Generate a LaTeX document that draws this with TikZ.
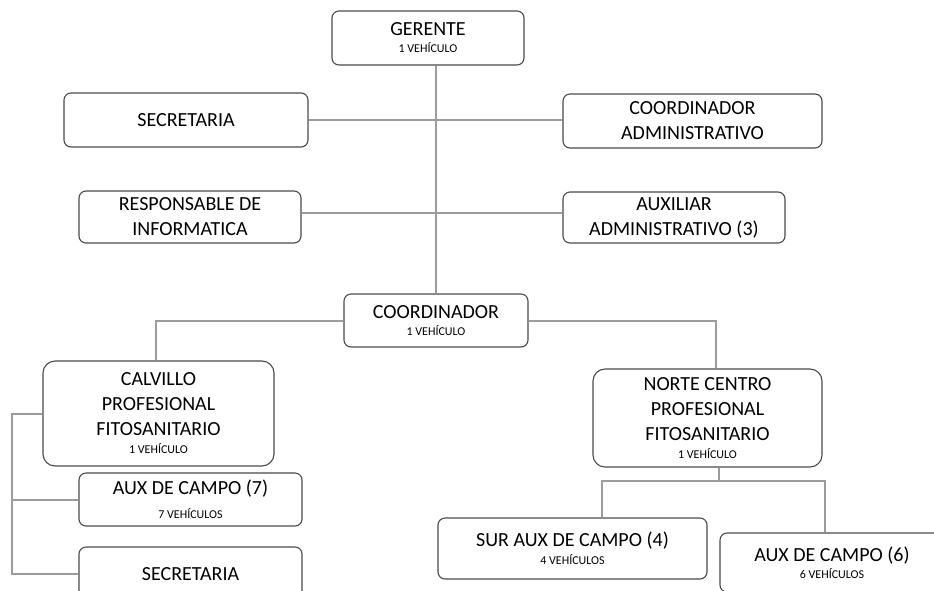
\documentclass[tikz,border=0pt]{standalone}
\usepackage{fontspec}
\setmainfont{Carlito}
\definecolor{boxc}{HTML}{4A4A4A}
\definecolor{linec}{HTML}{9C9C9C}
\newcommand\smalltxt[1]{{\fontsize{12}{14}\selectfont #1}}
\begin{document}
\begin{tikzpicture}[x=1pt,y=-1pt,
  box/.style={draw=boxc, line width=1.1pt, rounded corners=7pt, fill=white,
    align=center, inner sep=0pt, font=\fontsize{20}{25}\selectfont},
  bigbox/.style={box, rounded corners=12pt},
  link/.style={draw=linec, line width=2pt}]
\useasboundingbox (0,0) rectangle (934,590);
\fill[white] (0,0) rectangle (934,590);
\clip (0,0) rectangle (934,590);

% nodes
\node[box, minimum width=192pt, minimum height=54pt] (ger) at (428,38)
  {GERENTE\\[-8pt]\smalltxt{1 VEHÍCULO}};
\node[box, minimum width=244pt, minimum height=54pt] (sec1) at (186,120)
  {SECRETARIA};
\node[box, minimum width=259pt, minimum height=54pt] (cadm) at (692.5,121)
  {COORDINADOR\\ADMINISTRATIVO};
\node[box, minimum width=222pt, minimum height=52pt] (resp) at (190,217)
  {RESPONSABLE DE\\INFORMATICA};
\node[box, minimum width=222pt, minimum height=51pt] (aadm) at (674,217.5)
  {AUXILIAR\\ADMINISTRATIVO (3)};
\node[box, minimum width=184pt, minimum height=53pt] (coord) at (436,320.5)
  {COORDINADOR\\[-8pt]\smalltxt{1 VEHÍCULO}};
\node[bigbox, minimum width=231pt, minimum height=105pt] (calv) at (158.5,413.5)
  {CALVILLO\\PROFESIONAL\\FITOSANITARIO\\[-7pt]\smalltxt{1 VEHÍCULO}};
\node[bigbox, minimum width=229pt, minimum height=98pt] (norte) at (707.5,418)
  {NORTE CENTRO\\PROFESIONAL\\FITOSANITARIO\\[-7pt]\smalltxt{1 VEHÍCULO}};
\node[box, minimum width=223pt, minimum height=53pt] (aux7) at (190.5,499.5)
  {AUX DE CAMPO (7)\\[-1pt]\smalltxt{7 VEHÍCULOS}};
\node[box, minimum width=223pt, minimum height=54pt] (sec2) at (190.5,574)
  {SECRETARIA};
\node[box, minimum width=269pt, minimum height=61pt] (sur) at (572.5,548.5)
  {SUR AUX DE CAMPO (4)\\[-7pt]\smalltxt{4 VEHÍCULOS}};
\node[box, minimum width=224pt, minimum height=59pt] (aux6) at (832,562.5)
  {AUX DE CAMPO (6)\\[-8pt]\smalltxt{6 VEHÍCULOS}};

% connectors
\draw[link] (ger.south -| coord.north) -- (coord.north);
\draw[link] (sec1.east) -- (sec1.east -| cadm.west);
\draw[link] ([yshift=4pt]resp.east) -- ([yshift=4pt]resp.east -| aadm.west);
\draw[link] (coord.west) -| ([xshift=-2.5pt]calv.north);
\draw[link] (coord.east) -| ([xshift=8.5pt]norte.north);
\draw[link] (calv.west) -- ++(-30,0) coordinate (lt) -- (lt |- sec2.west) -- (sec2.west);
\draw[link] (aux7.west -| lt) -- (aux7.west);
\draw[link] ([xshift=11.5pt]norte.south) -- ++(0,14) coordinate (nb);
\coordinate (br) at (825,481);
\draw[link] ([xshift=29.5pt]sur.north) |- (br) -- (br |- aux6.north);
\end{tikzpicture}
\end{document}
